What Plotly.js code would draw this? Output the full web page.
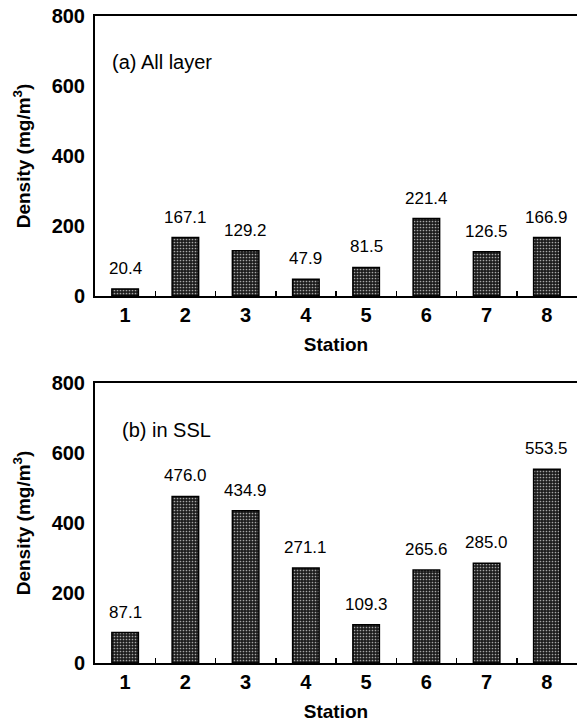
<!DOCTYPE html>
<html>
<head>
<meta charset="utf-8">
<script src="https://cdn.plot.ly/plotly-3.0.1.min.js"></script>
<style>html,body{margin:0;padding:0;background:#fff;}#chart{width:577px;height:724px;}</style>
</head>
<body>
<div id="chart"></div>
<script>
const stations = ['1','2','3','4','5','6','7','8'];
const allLayer = [20.4, 167.1, 129.2, 47.9, 81.5, 221.4, 126.5, 166.9];
const inSSL = [87.1, 476.0, 434.9, 271.1, 109.3, 265.6, 285.0, 553.5];
const allLayerLabels = ['20.4','167.1','129.2','47.9','81.5','221.4','126.5','166.9'];
const inSSLLabels = ['87.1','476.0','434.9','271.1','109.3','265.6','285.0','553.5'];
const yTicks = [0, 200, 400, 600, 800];
const panelTitles = ['(a) All layer', '(b) in SSL'];
const xTitle = 'Station';
const yTitle = 'Density (mg/m<sup>3</sup>)';

const FONT = 'Liberation Sans, Arial, sans-serif';

function barTrace(vals, xa, ya) {
  return {
    type: 'bar', x: stations, y: vals, xaxis: xa, yaxis: ya,
    width: 0.44,
    marker: {
      color: '#1e1e1e',
      line: {color: '#000', width: 1.5},
      pattern: {shape: '.', bgcolor: '#1c1c1c', fgcolor: '#a8a8a8', size: 3, solidity: 0.25}
    },
    hoverinfo: 'skip', showlegend: false
  };
}

const xBase = {
  type: 'category', range: [-0.5, 7.5], showline: true, linecolor: '#000', linewidth: 2,
  mirror: true, ticks: 'inside', ticklen: 5, tickwidth: 1.5, tickcolor: '#000',
  tickson: 'boundaries', showgrid: false, zeroline: false,
  tickfont: {family: FONT, size: 20, color: '#000', weight: 'bold'},
  title: {text: '<b>' + xTitle + '</b>', font: {family: FONT, size: 19, color: '#000'}, standoff: 13}
};
const yBase = {
  range: [0, 800], tickvals: yTicks, showline: true, linecolor: '#000', linewidth: 2,
  ticks: '', showgrid: false, zeroline: false, ticklabelstandoff: 4,
  tickfont: {family: FONT, size: 20, color: '#000', weight: 'bold'},
  title: {text: '<b>' + yTitle + '</b>', font: {family: FONT, size: 19, color: '#000'}, standoff: 16}
};

const annotations = [];
stations.forEach((s, i) => {
  annotations.push({x: i, y: allLayer[i], xref: 'x', yref: 'y', text: allLayerLabels[i],
    showarrow: false, yanchor: 'bottom', yshift: 9, font: {family: FONT, size: 17, color: '#000'}});
  annotations.push({x: i, y: inSSL[i], xref: 'x2', yref: 'y2', text: inSSLLabels[i],
    showarrow: false, yanchor: 'bottom', yshift: 9, font: {family: FONT, size: 17, color: '#000'}});
});
annotations.push({x: 0.031, y: 0.836, xref: 'x domain', yref: 'y domain', text: panelTitles[0],
  showarrow: false, xanchor: 'left', yanchor: 'middle', font: {family: FONT, size: 20, color: '#000'}});
annotations.push({x: 0.052, y: 0.832, xref: 'x2 domain', yref: 'y2 domain', text: panelTitles[1],
  showarrow: false, xanchor: 'left', yanchor: 'middle', font: {family: FONT, size: 20, color: '#000'}});

const layout = {
  width: 577, height: 724,
  margin: {l: 95, r: 0, t: 16, b: 61},
  paper_bgcolor: '#fff', plot_bgcolor: '#fff',
  bargap: 0.5,
  xaxis: Object.assign({}, xBase, {domain: [0, 1], anchor: 'y'}),
  yaxis: Object.assign({}, yBase, {domain: [0.5672, 1], anchor: 'x'}),
  xaxis2: Object.assign({}, xBase, {domain: [0, 1], anchor: 'y2'}),
  yaxis2: Object.assign({}, yBase, {domain: [0, 0.4328], anchor: 'x2'}),
  annotations: annotations
};

Plotly.newPlot('chart', [barTrace(allLayer, 'x', 'y'), barTrace(inSSL, 'x2', 'y2')], layout, {staticPlot: true});
</script>
</body>
</html>
